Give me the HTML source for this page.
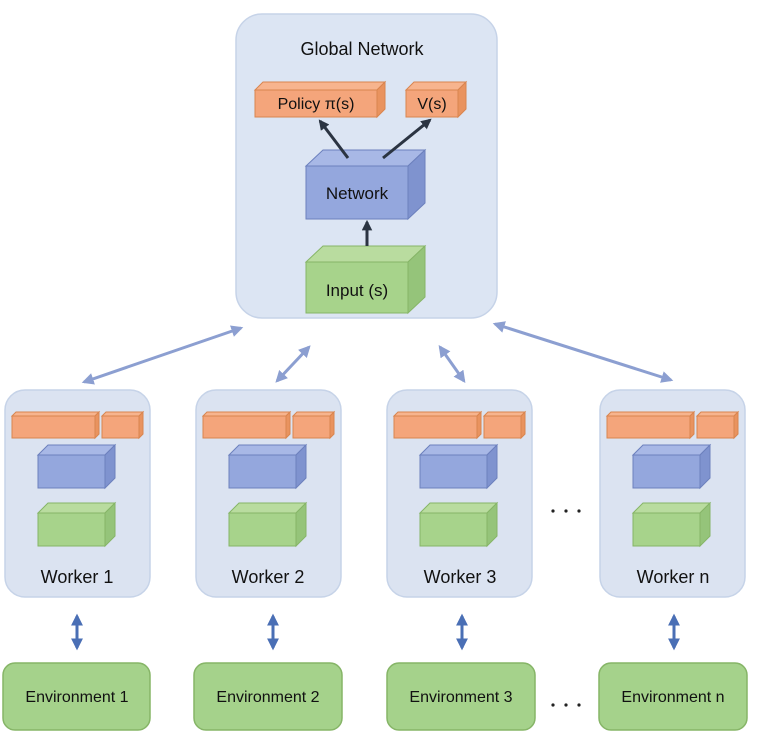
<!DOCTYPE html>
<html><head><meta charset="utf-8"><style>
html,body{margin:0;padding:0;background:#fff;}
svg{display:block;font-family:"Liberation Sans",Arial,sans-serif;}
</style></head><body>
<svg width="770" height="737" viewBox="0 0 770 737" xmlns="http://www.w3.org/2000/svg">
<defs>
<marker id="ab" viewBox="0 0 10 10" refX="8" refY="5" markerWidth="4" markerHeight="4" orient="auto-start-reverse"><path d="M0,0 L10,5 L0,10 z" fill="#8c9fd1"/></marker>
<marker id="ad" viewBox="0 0 10 10" refX="8" refY="5" markerWidth="4" markerHeight="4" orient="auto-start-reverse"><path d="M0,0 L10,5 L0,10 z" fill="#4a6fb5"/></marker>
<marker id="ak" viewBox="0 0 10 10" refX="8" refY="5" markerWidth="3.5" markerHeight="3.5" orient="auto"><path d="M0,0 L10,5 L0,10 z" fill="#2b3442"/></marker>
</defs>

<rect x="236" y="14" width="261" height="304" rx="26" fill="#dce5f3" stroke="#c6d3e8" stroke-width="1.5"/>
<text x="362" y="55" font-size="18" text-anchor="middle" fill="#111">Global Network</text>

<polygon points="255,90 263,82 385,82 377,90" fill="#f7b48e" stroke="#d9854f"/>
<polygon points="377,90 385,82 385,109 377,117" fill="#e9935f" stroke="#d9854f"/>
<rect x="255" y="90" width="122" height="27" fill="#f4a57b" stroke="#d9854f"/>
<text x="316" y="109" font-size="16" text-anchor="middle" fill="#111">Policy π(s)</text>
<polygon points="406,90 414,82 466,82 458,90" fill="#f7b48e" stroke="#d9854f"/>
<polygon points="458,90 466,82 466,109 458,117" fill="#e9935f" stroke="#d9854f"/>
<rect x="406" y="90" width="52" height="27" fill="#f4a57b" stroke="#d9854f"/>
<text x="432" y="109" font-size="16" text-anchor="middle" fill="#111">V(s)</text>

<polygon points="306,166 323,150 425,150 408,166" fill="#a8b8e6" stroke="#6c80bd"/>
<polygon points="408,166 425,150 425,203 408,219" fill="#7f93cf" stroke="#6c80bd"/>
<rect x="306" y="166" width="102" height="53" fill="#94a7dd" stroke="#6c80bd"/>
<text x="357" y="199" font-size="17" text-anchor="middle" fill="#111">Network</text>
<polygon points="306,262 323,246 425,246 408,262" fill="#b9dc9f" stroke="#86b567"/>
<polygon points="408,262 425,246 425,297 408,313" fill="#95c47a" stroke="#86b567"/>
<rect x="306" y="262" width="102" height="51" fill="#a7d38b" stroke="#86b567"/>
<text x="357" y="296" font-size="17" text-anchor="middle" fill="#111">Input (s)</text>

<line x1="348" y1="158" x2="320" y2="121" stroke="#2b3442" stroke-width="3" marker-end="url(#ak)"/>
<line x1="383" y1="158" x2="430" y2="120" stroke="#2b3442" stroke-width="3" marker-end="url(#ak)"/>
<line x1="367" y1="246" x2="367" y2="222" stroke="#2b3442" stroke-width="3" marker-end="url(#ak)"/>

<g stroke="#8c9fd1" stroke-width="3" fill="none">
<line x1="84" y1="382" x2="241" y2="328" marker-start="url(#ab)" marker-end="url(#ab)"/>
<line x1="277" y1="381" x2="309" y2="347" marker-start="url(#ab)" marker-end="url(#ab)"/>
<line x1="440" y1="347" x2="464" y2="381" marker-start="url(#ab)" marker-end="url(#ab)"/>
<line x1="495" y1="324" x2="671" y2="380" marker-start="url(#ab)" marker-end="url(#ab)"/>
</g>

<g id="w">
<rect x="5" y="390" width="145" height="207" rx="20" fill="#dbe3f1" stroke="#c6d3e8" stroke-width="1.5"/>
<polygon points="12,416 16,412 99,412 95,416" fill="#f7b48e" stroke="#d9854f"/>
<polygon points="95,416 99,412 99,434 95,438" fill="#e9935f" stroke="#d9854f"/>
<rect x="12" y="416" width="83" height="22" fill="#f4a57b" stroke="#d9854f"/>
<polygon points="102,416 106,412 143,412 139,416" fill="#f7b48e" stroke="#d9854f"/>
<polygon points="139,416 143,412 143,434 139,438" fill="#e9935f" stroke="#d9854f"/>
<rect x="102" y="416" width="37" height="22" fill="#f4a57b" stroke="#d9854f"/>
<polygon points="38,455 48,445 115,445 105,455" fill="#a8b8e6" stroke="#6c80bd"/>
<polygon points="105,455 115,445 115,478 105,488" fill="#7f93cf" stroke="#6c80bd"/>
<rect x="38" y="455" width="67" height="33" fill="#94a7dd" stroke="#6c80bd"/>
<polygon points="38,513 48,503 115,503 105,513" fill="#b9dc9f" stroke="#86b567"/>
<polygon points="105,513 115,503 115,536 105,546" fill="#95c47a" stroke="#86b567"/>
<rect x="38" y="513" width="67" height="33" fill="#a7d38b" stroke="#86b567"/>
</g>
<use href="#w" transform="translate(191,0)"/>
<use href="#w" transform="translate(382,0)"/>
<use href="#w" transform="translate(595,0)"/>
<g font-size="18" text-anchor="middle" fill="#111">
<text x="77" y="583">Worker 1</text>
<text x="268" y="583">Worker 2</text>
<text x="460" y="583">Worker 3</text>
<text x="673" y="583">Worker n</text>
</g>

<g stroke="#4a6fb5" stroke-width="3">
<line x1="77" y1="616" x2="77" y2="648" marker-start="url(#ad)" marker-end="url(#ad)"/>
<line x1="273" y1="616" x2="273" y2="648" marker-start="url(#ad)" marker-end="url(#ad)"/>
<line x1="462" y1="616" x2="462" y2="648" marker-start="url(#ad)" marker-end="url(#ad)"/>
<line x1="674" y1="616" x2="674" y2="648" marker-start="url(#ad)" marker-end="url(#ad)"/>
</g>

<g fill="#a5d28b" stroke="#86b567" stroke-width="1.5">
<rect x="3" y="663" width="147" height="67" rx="12"/>
<rect x="194" y="663" width="148" height="67" rx="12"/>
<rect x="387" y="663" width="148" height="67" rx="12"/>
<rect x="599" y="663" width="148" height="67" rx="12"/>
</g>
<g font-size="16" text-anchor="middle" fill="#111">
<text x="77" y="702">Environment 1</text>
<text x="268" y="702">Environment 2</text>
<text x="461" y="702">Environment 3</text>
<text x="673" y="702">Environment n</text>
</g>

<g fill="#222">
<circle cx="553" cy="511" r="1.6"/><circle cx="566" cy="511" r="1.6"/><circle cx="579" cy="511" r="1.6"/>
<circle cx="553" cy="705" r="1.6"/><circle cx="566" cy="705" r="1.6"/><circle cx="579" cy="705" r="1.6"/>
</g>
</svg>
</body></html>
